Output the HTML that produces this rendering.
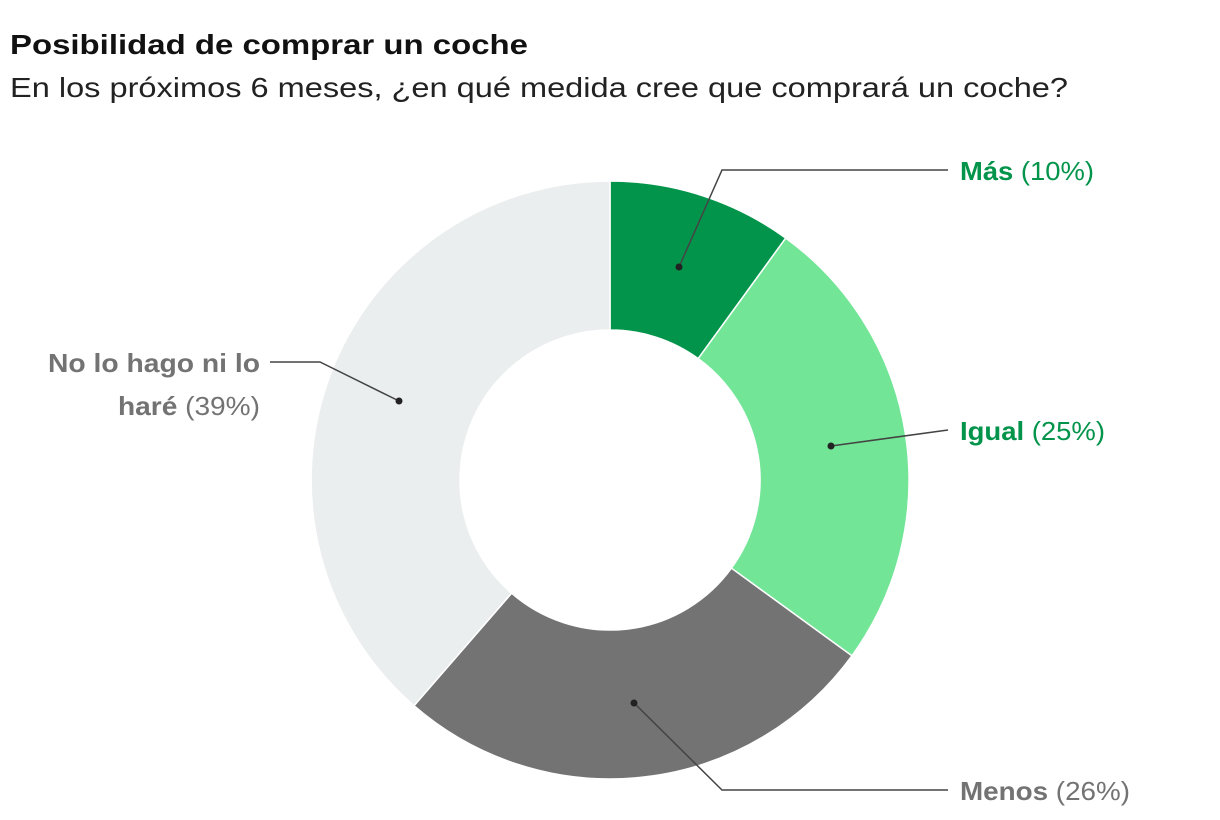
<!DOCTYPE html>
<html><head><meta charset="utf-8"><style>
html,body{margin:0;padding:0;background:#fff;}
svg{display:block;font-family:"Liberation Sans",sans-serif;}
</style></head><body>
<svg width="1220" height="820" viewBox="0 0 1220 820" xmlns="http://www.w3.org/2000/svg">
<text x="10" y="54" font-size="28" font-weight="bold" fill="#111" textLength="518" lengthAdjust="spacingAndGlyphs">Posibilidad de comprar un coche</text>
<text x="10" y="97" font-size="28" fill="#222" textLength="1058" lengthAdjust="spacingAndGlyphs">En los próximos 6 meses, ¿en qué medida cree que comprará un coche?</text>
<g stroke="#fff" stroke-width="1.5">
<path d="M610,181 A299,299 0 0 1 785.75,238.1 L698.2,358.6 A150,150 0 0 0 610,330 Z" fill="#03944b"/>
<path d="M785.75,238.1 A299,299 0 0 1 851.9,655.8 L731.4,568.2 A150,150 0 0 0 698.2,358.6 Z" fill="#72e596"/>
<path d="M851.9,655.8 A299,299 0 0 1 414,705.7 L511.6,593.2 A150,150 0 0 0 731.4,568.2 Z" fill="#737373"/>
<path d="M414,705.7 A299,299 0 0 1 610,181 L610,330 A150,150 0 0 0 511.6,593.2 Z" fill="#ebeeef"/>
</g>
<g stroke="#444" stroke-width="1.5" fill="none">
<polyline points="679,267 722,170 948,170"/>
<polyline points="831,446 948,430"/>
<polyline points="634,703 722,790 948,790"/>
<polyline points="399,401 320,362 270,362"/>
</g>
<g fill="#222">
<circle cx="679" cy="267" r="3.5"/><circle cx="831" cy="446" r="3.5"/>
<circle cx="634" cy="703" r="3.5"/><circle cx="399" cy="401" r="3.5"/>
</g>
<g font-size="26">
<text x="960" y="180" fill="#03944b" textLength="134" lengthAdjust="spacingAndGlyphs"><tspan font-weight="bold">Más</tspan> (10%)</text>
<text x="960" y="440" fill="#03944b" textLength="145" lengthAdjust="spacingAndGlyphs"><tspan font-weight="bold">Igual</tspan> (25%)</text>
<text x="960" y="800" fill="#737373" textLength="170" lengthAdjust="spacingAndGlyphs"><tspan font-weight="bold">Menos</tspan> (26%)</text>
<text x="48" y="372" fill="#737373" font-weight="bold" textLength="212" lengthAdjust="spacingAndGlyphs">No lo hago ni lo</text>
<text x="118" y="415" fill="#737373" textLength="142" lengthAdjust="spacingAndGlyphs"><tspan font-weight="bold">haré</tspan> (39%)</text>
</g>
</svg>
</body></html>
